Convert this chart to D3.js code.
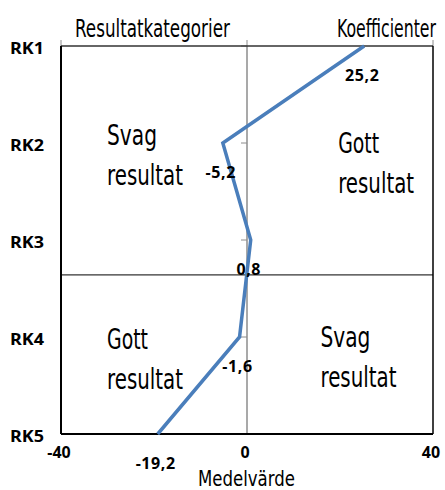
<!DOCTYPE html>
<html>
<head>
<meta charset="utf-8">
<script src="https://cdn.jsdelivr.net/npm/d3@7"></script>
<style>
  body { margin: 0; background: #fff; }
  svg { display: block; }
  .narrow { font-family: "Liberation Sans Narrow", "DejaVu Sans Condensed", "Liberation Sans", sans-serif; font-stretch: condensed; }
  .bold { font-family: "Noto Sans", "Liberation Sans", Arial, sans-serif; font-weight: 700; }
</style>
</head>
<body>
<div id="app"></div>
<script>
const categories = ['RK1', 'RK2', 'RK3', 'RK4', 'RK5']
const values = [25.2, -5.2, 0.8, -1.6, -19.2]
const xTicks = [-40, 0, 40]
const dividerAt = 2.36 // index position of the horizontal split (between RK3 and RK4)

const width = 445
const height = 490
const margin = {top: 46, right: 12, bottom: 56, left: 61}

const svg = d3.select('#app').append('svg')
    .attr('width', width)
    .attr('height', height)

const x = d3.scaleLinear()
    .domain([-40, 40])
    .range([margin.left, width - margin.right])

const y = d3.scalePoint()
    .domain(categories)
    .range([margin.top, height - margin.bottom])

const yIdx = d3.scaleLinear()
    .domain([0, categories.length - 1])
    .range([margin.top, height - margin.bottom])

const fmt = v => String(v).replace('.', ',')

// squeeze a text horizontally so it is exactly w wide (condensed look)
function narrowText(g, str, px, py, size, w) {
    const t = g.append('text')
        .attr('class', 'narrow')
        .attr('font-size', size)
        .text(str)
    const natural = t.node().getComputedTextLength()
    t.attr('transform', `translate(${px},${py}) scale(${w / natural},1)`)
    return t
}

// zero axis (grey) with small ticks
svg.append('line')
    .attr('x1', x(0)).attr('x2', x(0))
    .attr('y1', margin.top).attr('y2', height - margin.bottom)
    .attr('stroke', '#8c8c8c').attr('stroke-width', 1.5)

svg.append('g').selectAll('line')
    .data(categories)
    .join('line')
    .attr('x1', x(0) - 6).attr('x2', x(0))
    .attr('y1', d => y(d)).attr('y2', d => y(d))
    .attr('stroke', '#8c8c8c').attr('stroke-width', 1)

// top ticks
svg.append('g').selectAll('line')
    .data(xTicks)
    .join('line')
    .attr('x1', d => x(d)).attr('x2', d => x(d))
    .attr('y1', margin.top - 6).attr('y2', margin.top)
    .attr('stroke', '#8c8c8c').attr('stroke-width', 1)

// horizontal divider
svg.append('line')
    .attr('x1', x(-40)).attr('x2', x(40))
    .attr('y1', yIdx(dividerAt)).attr('y2', yIdx(dividerAt))
    .attr('stroke', '#000').attr('stroke-width', 1)

// frame
svg.append('line')
    .attr('x1', x(-40)).attr('x2', x(40))
    .attr('y1', margin.top).attr('y2', margin.top)
    .attr('stroke', '#333').attr('stroke-width', 1.5)
svg.append('line')
    .attr('x1', x(-40)).attr('x2', x(40))
    .attr('y1', height - margin.bottom).attr('y2', height - margin.bottom)
    .attr('stroke', '#000').attr('stroke-width', 2)
svg.append('line')
    .attr('x1', x(-40)).attr('x2', x(-40))
    .attr('y1', margin.top).attr('y2', height - margin.bottom)
    .attr('stroke', '#000').attr('stroke-width', 2)
svg.append('line')
    .attr('x1', x(40)).attr('x2', x(40))
    .attr('y1', margin.top).attr('y2', height - margin.bottom)
    .attr('stroke', '#000').attr('stroke-width', 1.5)

// quadrant texts
const quadrants = [
    {lines: ['Svag', 'resultat'], x: -30.1, at: 1},
    {lines: ['Gott', 'resultat'], x: 19.6, at: 1.08},
    {lines: ['Gott', 'resultat'], x: -30.1, at: 3.1},
    {lines: ['Svag', 'resultat'], x: 15.8, at: 3.08}
]
const qw = {Svag: 50, Gott: 41, resultat: 76}
const qg = svg.append('g')
quadrants.forEach(q => {
    q.lines.forEach((t, i) => {
        narrowText(qg, t, x(q.x), yIdx(q.at) + 2 + i * 40, 29, qw[t])
    })
})

// line
const line = d3.line()
    .x(d => x(d.v))
    .y(d => y(d.c))

const pts = categories.map((c, i) => ({c, v: values[i]}))

svg.append('path')
    .datum(pts)
    .attr('d', line)
    .attr('fill', 'none')
    .attr('stroke', '#4a7ebb')
    .attr('stroke-width', 3.5)
    .attr('stroke-linejoin', 'miter')

// data labels
svg.append('g').selectAll('text')
    .data(pts)
    .join('text')
    .attr('class', 'bold')
    .attr('x', d => x(d.v) - 2)
    .attr('y', d => y(d.c) + 35)
    .attr('text-anchor', 'middle')
    .attr('font-size', 16)
    .attr('letter-spacing', 0.6)
    .text(d => fmt(d.v))

// category labels
svg.append('g').selectAll('text')
    .data(categories)
    .join('text')
    .attr('class', 'bold')
    .attr('x', 10)
    .attr('y', d => y(d) + 8)
    .attr('font-size', 16)
    .attr('textLength', 34)
    .attr('lengthAdjust', 'spacingAndGlyphs')
    .text(d => d)

// x tick labels
svg.append('g').selectAll('text')
    .data(xTicks)
    .join('text')
    .attr('class', 'bold')
    .attr('x', d => x(d) - 2)
    .attr('y', height - margin.bottom + 24)
    .attr('text-anchor', 'middle')
    .attr('font-size', 16)
    .text(d => d)

// titles
const tg = svg.append('g')
narrowText(tg, 'Resultatkategorier', 75, 37, 24, 155)
narrowText(tg, 'Koefficienter', 337, 37, 24, 99)
narrowText(tg, 'Medelvärde', 198, 486, 22, 97)
</script>
</body>
</html>
